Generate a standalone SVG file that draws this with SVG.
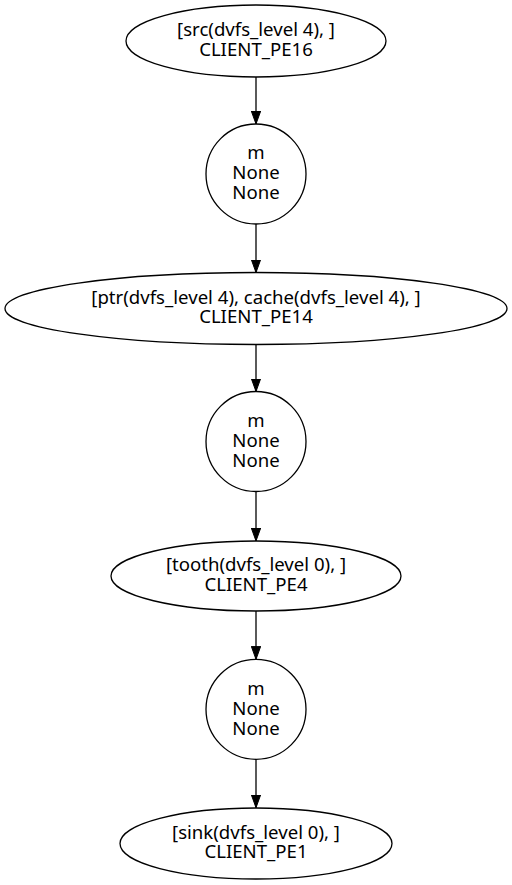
<svg xmlns="http://www.w3.org/2000/svg" width="512" height="885" viewBox="0 0 512 885">
<style>
.n{fill:none;stroke:#000;stroke-width:1.3}
.t{font-family:"Noto Sans","Open Sans",sans-serif;font-size:18.6px;text-anchor:middle;fill:#000}
.e{stroke:#000;stroke-width:1.3;fill:none}
</style>
<defs>
<marker id="ah" markerUnits="userSpaceOnUse" markerWidth="14" markerHeight="10" refX="13" refY="4.7" orient="auto">
<path d="M0,0 L13,4.7 L0,9.4 Z" fill="#000" stroke="#000" stroke-width="1"/>
</marker>
</defs>
<rect width="512" height="885" fill="#fff"/>
<g id="edges">
<line class="e" x1="256" y1="77" x2="256" y2="124" marker-end="url(#ah)"/>
<line class="e" x1="256" y1="224" x2="256" y2="272.5" marker-end="url(#ah)"/>
<line class="e" x1="256" y1="344.5" x2="256" y2="391.5" marker-end="url(#ah)"/>
<line class="e" x1="256" y1="491.5" x2="256" y2="541" marker-end="url(#ah)"/>
<line class="e" x1="256" y1="611" x2="256" y2="659.3" marker-end="url(#ah)"/>
<line class="e" x1="256" y1="759.3" x2="256" y2="807.7" marker-end="url(#ah)"/>
</g>
<g id="n1">
<ellipse class="n" cx="256" cy="41" rx="130" ry="36"/>
<text class="t" x="256" y="36">[src(dvfs_level 4), ]</text>
<text class="t" x="256" y="55.5">CLIENT_PE16</text>
</g>
<g id="m1">
<circle class="n" cx="256" cy="174" r="50"/>
<text class="t" x="256" y="159.3">m</text>
<text class="t" x="256" y="179.3">None</text>
<text class="t" x="256" y="199.3">None</text>
</g>
<g id="n2">
<ellipse class="n" cx="256" cy="308.5" rx="251" ry="36"/>
<text class="t" x="256" y="303.5">[ptr(dvfs_level 4), cache(dvfs_level 4), ]</text>
<text class="t" x="256" y="323">CLIENT_PE14</text>
</g>
<g id="m2">
<circle class="n" cx="256" cy="441.5" r="50"/>
<text class="t" x="256" y="426.8">m</text>
<text class="t" x="256" y="446.8">None</text>
<text class="t" x="256" y="466.8">None</text>
</g>
<g id="n3">
<ellipse class="n" cx="256" cy="576" rx="145" ry="35"/>
<text class="t" x="256" y="571">[tooth(dvfs_level 0), ]</text>
<text class="t" x="256" y="590.5">CLIENT_PE4</text>
</g>
<g id="m3">
<circle class="n" cx="256" cy="709.3" r="50"/>
<text class="t" x="256" y="694.6">m</text>
<text class="t" x="256" y="714.6">None</text>
<text class="t" x="256" y="734.6">None</text>
</g>
<g id="n4">
<ellipse class="n" cx="256" cy="843.5" rx="136" ry="35.5"/>
<text class="t" x="256" y="838.5">[sink(dvfs_level 0), ]</text>
<text class="t" x="256" y="858">CLIENT_PE1</text>
</g>
</svg>
